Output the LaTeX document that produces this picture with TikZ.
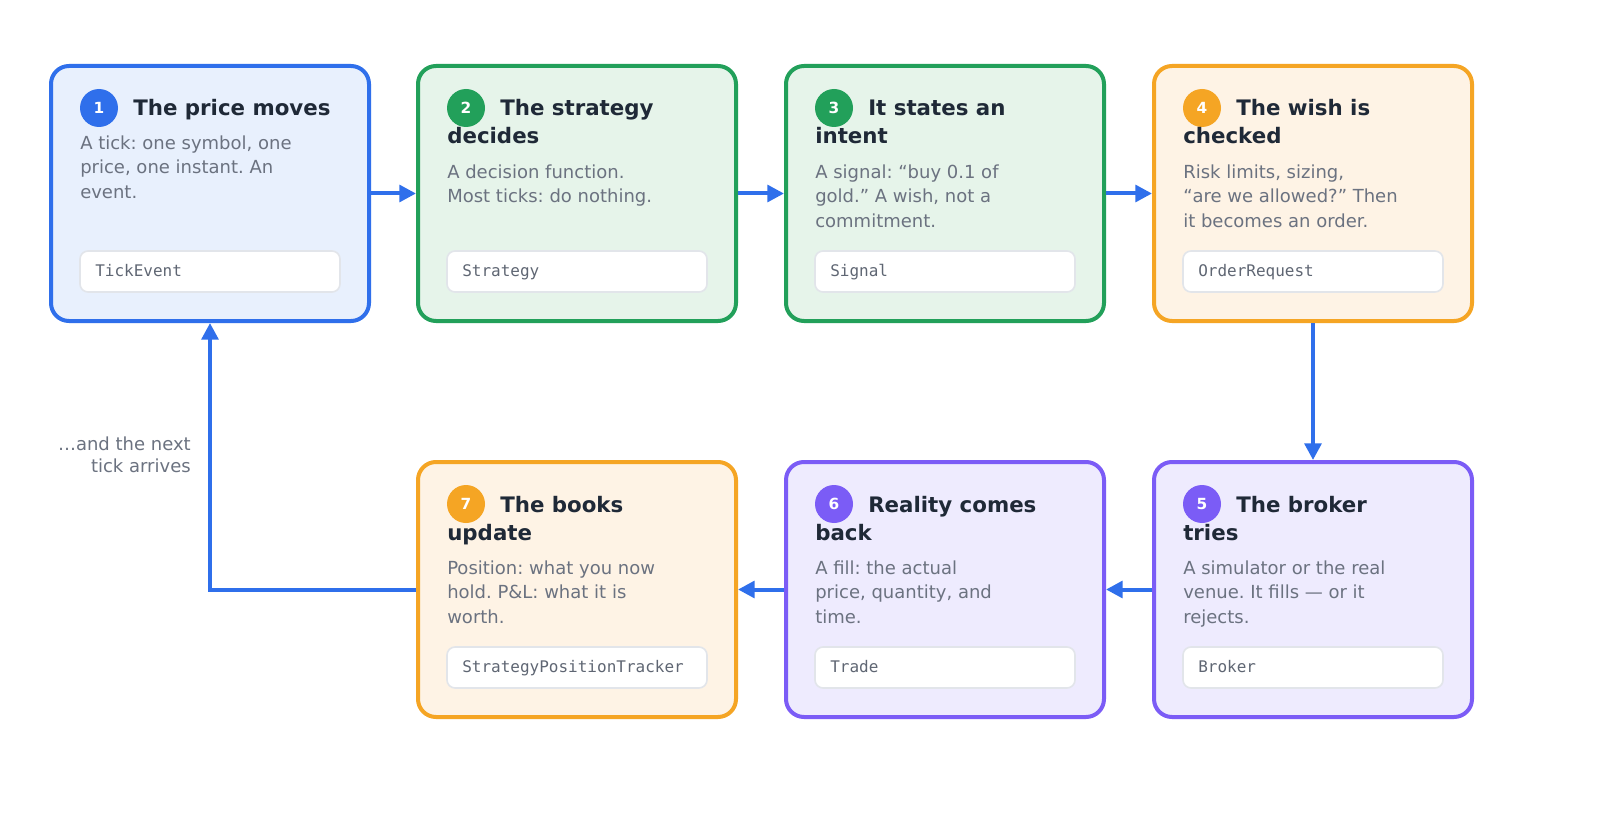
\documentclass[tikz,border=0pt]{standalone}
\usepackage{fontspec}
\setmainfont{DejaVu Sans}
\setmonofont{DejaVu Sans Mono}
\usetikzlibrary{arrows.meta}
\frenchspacing
\definecolor{cblue}{HTML}{2F6FEB}
\definecolor{fblue}{HTML}{E8F0FD}
\definecolor{cgreen}{HTML}{22A05A}
\definecolor{fgreen}{HTML}{E6F4EA}
\definecolor{corange}{HTML}{F5A524}
\definecolor{forange}{HTML}{FEF3E5}
\definecolor{cpurple}{HTML}{7B5CF6}
\definecolor{fpurple}{HTML}{EEEBFE}
\definecolor{ctitle}{HTML}{1F2937}
\definecolor{cbody}{HTML}{6B7280}
\definecolor{ccode}{HTML}{5F6673}
\definecolor{ccodeborder}{HTML}{E2E5EA}
\tikzset{
  card/.style={draw=#1, line width=3pt, rounded corners=13.5pt, minimum width=238.5pt, minimum height=191.25pt, inner sep=0pt, outer sep=1.5pt},
  badge/.style={circle, fill=#1, minimum size=28.5pt, inner sep=0pt, text=white, font=\fontsize{11.5pt}{12pt}\selectfont\bfseries},
  ttl/.style={anchor=base west, inner sep=0pt, text=ctitle, font=\fontsize{16pt}{21pt}\selectfont\bfseries},
  bodytxt/.style={anchor=north west, inner sep=0pt, align=left, text=cbody, font=\fontsize{13.5pt}{18.4pt}\selectfont},
  codebox/.style={draw=ccodeborder, fill=white, line width=1.2pt, rounded corners=6pt},
  codetxt/.style={anchor=base west, inner sep=0pt, text=ccode, font=\fontsize{12pt}{14pt}\selectfont\ttfamily},
  flow/.style={draw=cblue, line width=3pt, -{Triangle[length=12.5pt,width=12.5pt]}},
  note/.style={anchor=north east, inner sep=0pt, align=right, text=cbody, font=\fontsize{13.5pt}{16.5pt}\selectfont}
}
% #1 name, #2 left, #3 top, #4 colour, #5 fill, #6 number, #7 title line 1, #8 title line 2, #9 body
\newcommand{\stepcard}[9]{%
  \node[card=#4, fill=#5] (#1) at ({#2+161},{#3+129.5}) {};
  \node[badge=#4] (#1-badge) at ({#2+50},{#3+44}) {#6};
  \node[ttl] (#1-t1) at ({#2+84},{#3+52}) {#7};
  \ifx\relax#8\relax
    \node[bodytxt] (#1-body) at ({#2+31},{#3+85-13.7}) {#9};
  \else
    \node[ttl] (#1-t2) at ({#2+31},{#3+80}) {#8};
    \node[bodytxt] (#1-body) at ({#2+31},{#3+114-13.7}) {#9};
  \fi
}
\newcommand{\codelabel}[4]{%
  \node[codebox, minimum width=195pt, minimum height=30.75pt, inner sep=0pt] (#1) at ({#2+161},{#3+207.5}) {};
  \node[codetxt] (#1-txt) at ({#2+46},{#3+212.5}) {#4};
}
\begin{document}
\begin{tikzpicture}[x=0.75pt,y=-0.75pt]
\useasboundingbox (0,0) rectangle (1600,831);
\fill[white] (0,0) rectangle (1600,831);

\stepcard{b1}{49}{64}{cblue}{fblue}{1}{The price moves}{}{A tick: one symbol, one\\price, one instant. An\\event.}
\codelabel{c1}{49}{64}{TickEvent}
\stepcard{b2}{416}{64}{cgreen}{fgreen}{2}{The strategy}{decides}{A decision function.\\Most ticks: do nothing.}
\codelabel{c2}{416}{64}{Strategy}
\stepcard{b3}{784}{64}{cgreen}{fgreen}{3}{It states an}{intent}{A signal: “buy 0.1 of\\gold.” A wish, not a\\commitment.}
\codelabel{c3}{784}{64}{Signal}
\stepcard{b4}{1152}{64}{corange}{forange}{4}{The wish is}{checked}{Risk limits, sizing,\\“are we allowed?” Then\\it becomes an order.}
\codelabel{c4}{1152}{64}{OrderRequest}
\stepcard{b5}{1152}{460}{cpurple}{fpurple}{5}{The broker}{tries}{A simulator or the real\\venue. It fills — or it\\rejects.}
\codelabel{c5}{1152}{460}{Broker}
\stepcard{b6}{784}{460}{cpurple}{fpurple}{6}{Reality comes}{back}{A fill: the actual\\price, quantity, and\\time.}
\codelabel{c6}{784}{460}{Trade}
\stepcard{b7}{416}{460}{corange}{forange}{7}{The books}{update}{Position: what you now\\hold. P\&L: what it is\\worth.}
\codelabel{c7}{416}{460}{StrategyPositionTracker}

\draw[flow] (b1.east) -- (b2.west);
\draw[flow] (b2.east) -- (b3.west);
\draw[flow] (b3.east) -- (b4.west);
\draw[flow] (b4.south) -- (b5.north);
\draw[flow] (b5.west) -- (b6.east);
\draw[flow] (b6.west) -- (b7.east);
\draw[flow] (b7.west) -| (b1.south);

\node[note] (loopnote) at (191,436.3) {…and the next\\tick arrives};
\end{tikzpicture}
\end{document}
